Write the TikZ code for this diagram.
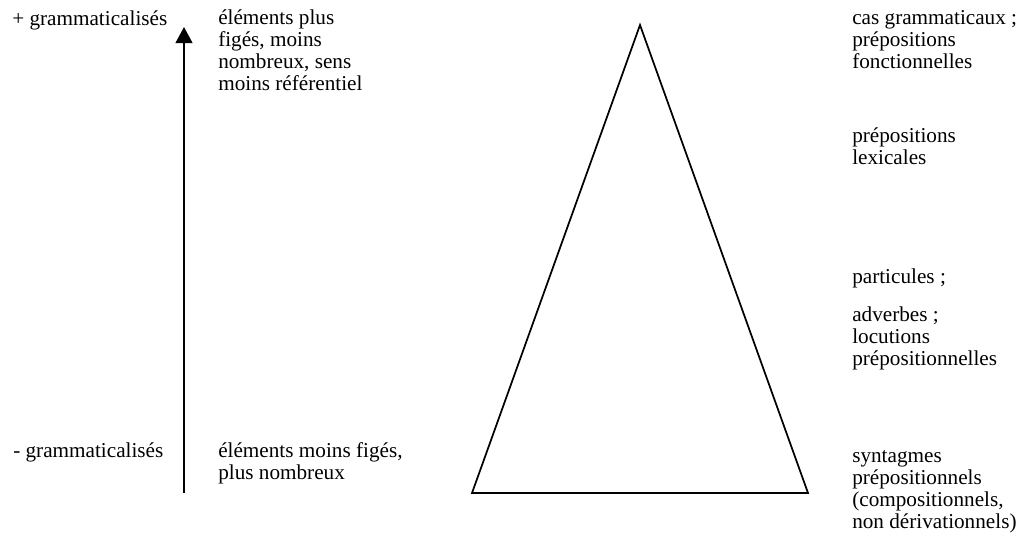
\documentclass[tikz,border=0pt]{standalone}
\usepackage{fontspec}
\setmainfont{Liberation Serif}
\usetikzlibrary{arrows.meta}

\begin{document}
\begin{tikzpicture}[
    x=0.75pt, y=-0.75pt,
    every node/.style={font=\fontsize{15.9}{16.3}\selectfont, inner sep=0pt, anchor=base west, align=left},
    ar/.style={-{Triangle[length=12pt, width=12.5pt]}, line width=1.5pt},
    tri/.style={line width=1.3pt, line join=miter}
]
\useasboundingbox (0,0) rectangle (1019,543);
% ----- Left: scale of grammaticalisation (nodes sit on their last baseline) -----
\node (plusg) at (12,25) {+ grammaticalisés};
\node (moinsg) at (13,457) {- grammaticalisés};
\coordinate (lo) at (184,493);
\coordinate (hi) at (184,27);
\draw[ar] (lo) -- (hi);
\node (haut) at (218,90) {éléments plus\\figés, moins\\nombreux, sens\\moins référentiel};
\node (bas) at (218,479) {éléments moins figés,\\plus nombreux};
% ----- Middle: triangle -----
\coordinate (apex) at (640,25);
\coordinate (bl) at (472,493);
\coordinate (br) at (808,493);
\draw[tri] (apex) -- (bl) -- (br) -- cycle;
% ----- Right column: categories -----
\node (cas) at (852,68) {cas grammaticaux ;\\prépositions\\fonctionnelles};
\node (lex) at (852,164) {prépositions\\lexicales};
\node (part) at (852,283) {particules ;};
\node (adv) at (852,365) {adverbes ;\\locutions\\prépositionnelles};
\node (synt) at (852,528) {syntagmes\\prépositionnels\\(compositionnels,\\non dérivationnels)};
\end{tikzpicture}
\end{document}
